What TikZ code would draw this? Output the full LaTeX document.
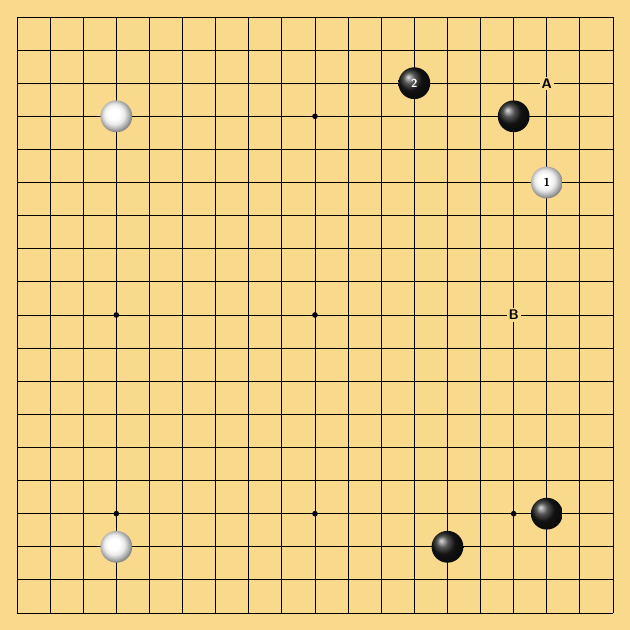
\documentclass[tikz,border=0pt]{standalone}
\usepackage{tikz}
\definecolor{boardwood}{RGB}{249,217,140}
\pgfdeclareradialshading{whiteball}{\pgfpoint{-5bp}{5bp}}{color(0bp)=(white); color(9bp)=(white); color(16bp)=(black!8); color(22bp)=(black!30); color(27bp)=(black!50); color(50bp)=(black!60)}
\tikzset{
  blackstone/.style={circle, minimum size=0.96cm, inner sep=0pt, ball color=black!90, text=white, font=\sffamily\bfseries},
  whitestone/.style={circle, minimum size=0.96cm, inner sep=0pt, shading=whiteball, text=black, font=\sffamily\bfseries},
  hoshi/.style={circle, fill=black, minimum size=0.17cm, inner sep=0pt},
  marklabel/.style={fill=boardwood, inner sep=1.5pt, font=\sffamily\bfseries\large}
}
\begin{document}
\begin{tikzpicture}

    \fill[boardwood] (-0.513,-0.513) rectangle (18.513,18.513);
    \useasboundingbox (-0.513,-0.513) rectangle (18.513,18.513);

    \foreach \i in {0,...,18}
      {\draw[line width=0.8pt] (\i,0) -- (\i,18);
       \draw[line width=0.8pt] (0,\i) -- (18,\i);}

    \foreach \x/\y in {3/15, 9/15, 15/15, 3/9, 9/9, 15/9, 3/3, 9/3, 15/3}
      \node[hoshi] at (\x,\y) {};


    \node[whitestone] (w1) at (3,15) {};

    \node[whitestone] (w2) at (3,2) {};

    \node[whitestone] (w3) at (16,13) {1};


    \node[blackstone] (b1) at (12,16) {2};

    \node[blackstone] (b2) at (15,15) {};

    \node[blackstone] (b3) at (16,3) {};

    \node[blackstone] (b4) at (13,2) {};


    \node[marklabel] (la) at (16,16) {A};

    \node[marklabel] (lb) at (15,9) {B};

  \end{tikzpicture}
\end{document}
